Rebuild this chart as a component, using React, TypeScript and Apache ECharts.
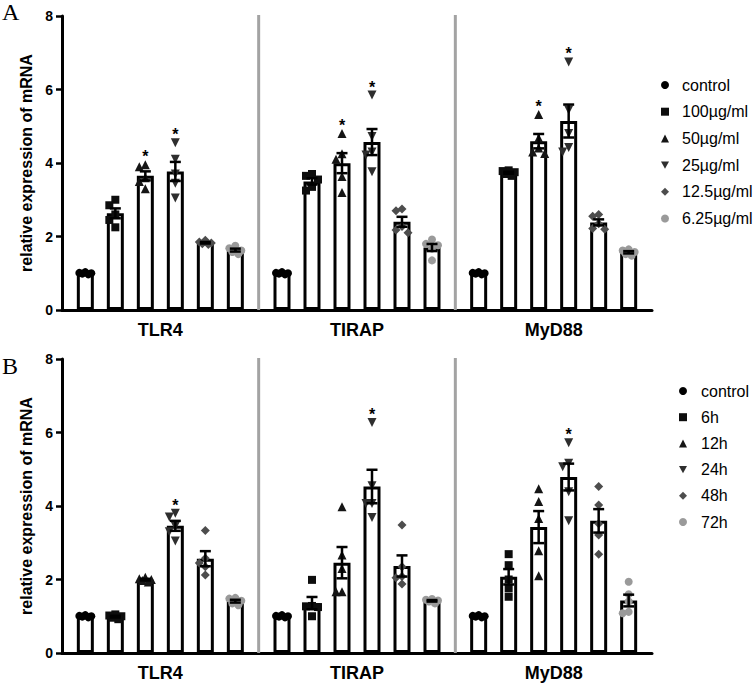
import React, { useEffect, useRef } from "react";
import * as echarts from "echarts";

// ---------- data ----------
const CATEGORIES = ["TLR4", "TIRAP", "MyD88"];
const GROUPS_A = ["control", "100µg/ml", "50µg/ml", "25µg/ml", "12.5µg/ml", "6.25µg/ml"];
const GROUPS_B = ["control", "6h", "12h", "24h", "48h", "72h"];
const Y_MIN = 0;
const Y_MAX = 8;
const Y_STEP = 2;
const Y_TITLE = "relative expression of mRNA";

// Panel A replicates, per group: [TLR4, TIRAP, MyD88]
const A_CONTROL = [[1.03, 1.01, 1.0, 0.99, 0.97], [1.03, 1.01, 1.0, 0.99, 0.97], [1.03, 1.01, 1.0, 0.99, 0.97]];
const A_100 = [[3.0, 2.85, 2.6, 2.45, 2.25], [3.7, 3.65, 3.55, 3.35, 3.25], [3.8, 3.78, 3.75, 3.7, 3.65]];
const A_50 = [[3.95, 3.9, 3.6, 3.5, 3.3], [4.8, 4.25, 4.1, 3.63, 3.2], [5.32, 4.68, 4.41, 4.3, 4.26]];
const A_25 = [[4.55, 4.1, 3.7, 3.45, 3.05], [5.85, 4.72, 4.3, 4.22, 3.76], [6.75, 5.44, 4.8, 4.42, 4.3]];
const A_12_5 = [[1.9, 1.85, 1.82, 1.8, 1.78], [2.75, 2.7, 2.27, 2.18, 2.1], [2.6, 2.55, 2.35, 2.22, 2.2]];
const A_6_25 = [[1.75, 1.68, 1.62, 1.58, 1.52], [1.92, 1.8, 1.76, 1.67, 1.35], [1.65, 1.62, 1.58, 1.52, 1.48]];

// Panel B replicates, per group: [TLR4, TIRAP, MyD88]
const B_CONTROL = [[1.03, 1.01, 1.0, 0.99, 0.97], [1.03, 1.01, 1.0, 0.99, 0.97], [1.03, 1.01, 1.0, 0.99, 0.97]];
const B_6H = [[1.05, 1.02, 1.0, 0.96, 0.92], [1.99, 1.28, 1.27, 1.25, 1.0], [2.69, 2.39, 2.0, 1.76, 1.53]];
const B_12H = [[2.06, 2.02, 2.0, 1.97, 1.93], [3.98, 2.67, 2.3, 1.67, 1.67], [4.47, 4.12, 3.66, 2.78, 2.1]];
const B_24H = [[3.8, 3.7, 3.45, 3.3, 3.05], [6.27, 4.55, 4.07, 4.07, 3.69], [5.72, 5.16, 5.07, 4.39, 3.6]];
const B_48H = [[3.33, 2.58, 2.45, 2.35, 2.12], [3.48, 2.35, 2.08, 2.05, 1.88], [4.53, 4.03, 3.52, 3.21, 2.69]];
const B_72H = [[1.5, 1.48, 1.42, 1.35, 1.3], [1.47, 1.45, 1.43, 1.4, 1.35], [1.94, 1.6, 1.4, 1.12, 1.08]];

// significance marks: [categoryIndex, groupIndex]
const STARS_A = [[0, 2], [0, 3], [1, 2], [1, 3], [2, 2], [2, 3]];
const STARS_B = [[0, 3], [1, 3], [2, 3]];

// ---------- styles ----------
const FONT = "'Liberation Sans', Arial, sans-serif";
const COLORS = ["#000000", "#0d0d0d", "#151515", "#2e2e2e", "#4d4d4d", "#9a9a9a"];
const DOWN_TRI = "path://M0,0L10,0L5,9Z";
const SYMBOLS = ["circle", "rect", "triangle", DOWN_TRI, "diamond", "circle"];
const SYMBOL_SIZES = [8, 8, 9, 9, 9, 8];
const BAR_W = 17;
const BAR_STEP = 30;
const PX_PER_UNIT = 36.75;

function stats(v: number[]) {
  const n = v.length;
  const m = v.reduce((a, b) => a + b, 0) / n;
  const sd = Math.sqrt(v.reduce((a, b) => a + (b - m) * (b - m), 0) / (n - 1));
  return { mean: m, sem: sd / Math.sqrt(n), max: Math.max(...v) };
}

function jitter(values: number[]) {
  const order = values.map((v, i) => i).sort((a, b) => values[b] - values[a]);
  const cands = [0, -6, 6, -3, 3, -8, 8];
  const placed: { v: number; dx: number }[] = [];
  const out = new Array(values.length).fill(0);
  order.forEach((idx, k) => {
    const v = values[idx];
    let chosen = cands[k % cands.length];
    for (const c of cands) {
      const hit = placed.some((p) => Math.abs(p.v - v) * PX_PER_UNIT < 7 && Math.abs(p.dx - c) < 6);
      if (!hit) {
        chosen = c;
        break;
      }
    }
    placed.push({ v, dx: chosen });
    out[idx] = chosen;
  });
  return out;
}

function buildPanel(p: number, groups: string[], data: number[][][], stars: number[][]) {
  const series: any[] = [];
  const offset = (g: number) => (g - (groups.length - 1) / 2) * BAR_STEP;
  const errItems: any[] = [];

  groups.forEach((name, g) => {
    const st = data[g].map((vals) => stats(vals));
    series.push({
      type: "bar",
      name: "bar" + p + "_" + g,
      xAxisIndex: p,
      yAxisIndex: p,
      barWidth: BAR_W,
      barGap: ((BAR_STEP - BAR_W) / BAR_W) * 100 + "%",
      data: st.map((s) => s.mean),
      itemStyle: { color: "#ffffff", borderColor: "#000000", borderWidth: 3 },
      silent: true,
      z: 2,
    });
    const pts: any[] = [];
    data[g].forEach((vals, c) => {
      const jx = jitter(vals);
      vals.forEach((v, i) => {
        pts.push({ value: [c, v], symbolOffset: [offset(g) + jx[i], 0] });
      });
      errItems.push({
        c,
        g,
        mean: st[c].mean,
        sem: st[c].sem,
        max: st[c].max,
        star: stars.some((s) => s[0] === c && s[1] === g),
      });
    });
    series.push({
      type: "scatter",
      name,
      xAxisIndex: p,
      yAxisIndex: p,
      symbol: SYMBOLS[g],
      symbolSize: SYMBOL_SIZES[g],
      itemStyle: { color: COLORS[g], opacity: 1 },
      data: pts,
      silent: true,
      z: 3,
    });
  });

  // separators between categories
  series.push({
    type: "custom",
    name: "sep" + p,
    xAxisIndex: p,
    yAxisIndex: p,
    silent: true,
    clip: false,
    z: 1,
    data: CATEGORIES.slice(0, CATEGORIES.length - 1).map((_, i) => [i, 0]),
    renderItem: (params: any, api: any) => {
      const i = params.dataIndex;
      const a = api.coord([i, Y_MIN]);
      const b = api.coord([i + 1, Y_MAX]);
      const x = (a[0] + b[0]) / 2;
      return {
        type: "line",
        shape: { x1: x, y1: b[1] - 1, x2: x, y2: a[1] },
        style: { stroke: "#a3a3a3", lineWidth: 3 },
      };
    },
  });

  // error bars + stars
  series.push({
    type: "custom",
    name: "err" + p,
    xAxisIndex: p,
    yAxisIndex: p,
    silent: true,
    clip: false,
    z: 4,
    data: errItems.map((d) => [d.c, d.mean]),
    renderItem: (params: any, api: any) => {
      const it = errItems[params.dataIndex];
      const top = api.coord([it.c, it.mean + it.sem]);
      const bot = api.coord([it.c, it.mean - it.sem]);
      const x = top[0] + offset(it.g);
      const children: any[] = [];
      if (top[1] < bot[1] - 1.5) {
        const ls = { stroke: "#000", lineWidth: 2.5 };
        children.push({ type: "line", shape: { x1: x, y1: top[1], x2: x, y2: bot[1] }, style: ls });
        children.push({ type: "line", shape: { x1: x - 5.5, y1: top[1], x2: x + 5.5, y2: top[1] }, style: ls });
        children.push({ type: "line", shape: { x1: x - 5.5, y1: bot[1], x2: x + 5.5, y2: bot[1] }, style: ls });
      }
      if (it.star) {
        const pt = api.coord([it.c, it.max]);
        children.push({
          type: "text",
          x,
          y: pt[1] - 8,
          style: {
            text: "*",
            fill: "#000",
            fontSize: 16,
            fontWeight: "bold",
            fontFamily: FONT,
            align: "center",
            verticalAlign: "middle",
          },
        });
      }
      return { type: "group", children };
    },
  });

  return series;
}

export default function App() {
  const ref = useRef<HTMLDivElement>(null);

  useEffect(() => {
    document.body.style.margin = "0";
    if (!ref.current) return;
    const chart = echarts.init(ref.current, undefined, { renderer: "svg" });

    const gridTops = [16, 359];
    const xAxes = gridTops.map((_, i) => ({
      type: "category",
      gridIndex: i,
      data: CATEGORIES,
      axisLine: { lineStyle: { color: "#000", width: 3 } },
      axisTick: { alignWithLabel: true, length: 7, lineStyle: { color: "#000", width: 2.5 } },
      axisLabel: { color: "#000", fontSize: 18, fontWeight: "bold", fontFamily: FONT, margin: 11 },
      splitLine: { show: false },
    }));
    const yAxes = gridTops.map((_, i) => ({
      type: "value",
      gridIndex: i,
      min: Y_MIN,
      max: Y_MAX,
      interval: Y_STEP,
      name: Y_TITLE,
      nameLocation: "middle",
      nameGap: 25,
      nameTextStyle: { color: "#000", fontSize: 16, fontWeight: "bold", fontFamily: FONT },
      axisLine: { show: true, lineStyle: { color: "#000", width: 3 } },
      axisTick: { show: true, length: 6, lineStyle: { color: "#000", width: 2.5 } },
      axisLabel: { color: "#000", fontSize: 14, fontWeight: "bold", fontFamily: FONT, margin: 9 },
      splitLine: { show: false },
    }));

    const legendOf = (groups: string[], left: number, top: number, gap: number, pad: number) => ({
      orient: "vertical",
      left,
      top,
      itemWidth: 8,
      itemHeight: 8,
      itemGap: gap,
      selectedMode: false,
      itemStyle: { opacity: 1 },
      data: groups.map((g, i) => ({ name: g, icon: SYMBOLS[i] })),
      textStyle: { color: "#000", fontSize: 16, lineHeight: 16, fontFamily: FONT, padding: [0, 0, 0, pad] },
    });

    const option: any = {
      animation: false,
      backgroundColor: "#ffffff",
      grid: gridTops.map((t) => ({ left: 62, right: 103, top: t, height: 294 })),
      xAxis: xAxes,
      yAxis: yAxes,
      legend: [legendOf(GROUPS_A, 656, 72, 10.7, 8), legendOf(GROUPS_B, 674, 378, 10.2, 9)],
      graphic: [
        { type: "text", left: 2, top: 0, style: { text: "A", fill: "#000", fontSize: 24, fontFamily: "'Liberation Serif', 'DejaVu Serif', serif" } },
        { type: "text", left: 2, top: 354, style: { text: "B", fill: "#000", fontSize: 24, fontFamily: "'Liberation Serif', 'DejaVu Serif', serif" } },
      ],
      series: [
        ...buildPanel(0, GROUPS_A, [A_CONTROL, A_100, A_50, A_25, A_12_5, A_6_25], STARS_A),
        ...buildPanel(1, GROUPS_B, [B_CONTROL, B_6H, B_12H, B_24H, B_48H, B_72H], STARS_B),
      ],
    };
    chart.setOption(option);
    return () => chart.dispose();
  }, []);

  return <div ref={ref} style={{ position: "absolute", left: 0, top: 0, width: 755, height: 687 }} />;
}
